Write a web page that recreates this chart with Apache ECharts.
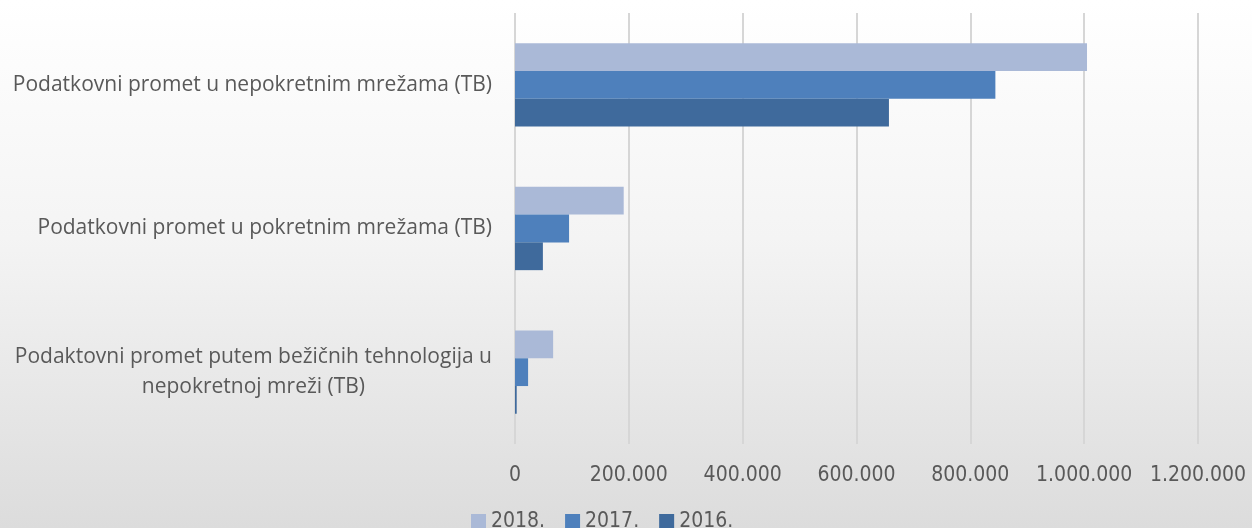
<!DOCTYPE html>
<html>
<head>
<meta charset="utf-8">
<script src="https://cdn.jsdelivr.net/npm/echarts@6/dist/echarts.min.js"></script>
<style>
  html, body { margin: 0; padding: 0; }
  #chart {
    width: 1252px;
    height: 528px;
    background: linear-gradient(to bottom, #ffffff 0%, #f4f4f4 45%, #dcdcdc 100%);
  }
</style>
</head>
<body>
<div id="chart"></div>
<script>
// categories top to bottom
const categories = [
  "Podatkovni promet u nepokretnim mrežama (TB)",
  "Podatkovni promet u pokretnim mrežama (TB)",
  "Podaktovni promet putem bežičnih tehnologija u\nnepokretnoj mreži (TB)"
];
const years = ["2018.", "2017.", "2016."];
const values2018 = [1005000, 191000, 67000];
const values2017 = [844000, 95000, 23000];
const values2016 = [657000, 49000, 3000];
const xTicks = { min: 0, max: 1200000, interval: 200000 };

const colors = ["#aab9d7", "#4e80bc", "#3f6a9c"];
const seriesData = [values2018, values2017, values2016];

function fmt(v) {
  return String(v).replace(/\B(?=(\d{3})+(?!\d))/g, ".");
}

let chart = echarts.init(document.getElementById("chart"), null, { renderer: "canvas" });
chart.setOption({
  backgroundColor: "transparent",
  animation: false,
  grid: { left: 515, right: 54, top: 13, bottom: 84, containLabel: false },
  legend: {
    top: 506,
    left: 466,
    itemWidth: 15,
    itemHeight: 15,
    itemGap: 20,
    icon: "rect",
    textStyle: {
      fontFamily: "Liberation Sans Narrow, DejaVu Sans Condensed, sans-serif",
      fontSize: 21,
      color: "#595959"
    },
    data: years
  },
  xAxis: {
    type: "value",
    min: xTicks.min,
    max: xTicks.max,
    interval: xTicks.interval,
    axisLine: { show: false },
    axisTick: { show: false },
    splitLine: { lineStyle: { color: "#d6d6d6", width: 2 } },
    axisLabel: {
      margin: 21,
      fontFamily: "Liberation Sans Narrow, DejaVu Sans Condensed, sans-serif",
      fontSize: 21,
      color: "#595959",
      formatter: fmt
    }
  },
  yAxis: {
    type: "category",
    inverse: true,
    data: categories,
    axisLine: { show: false },
    axisTick: { show: false },
    axisLabel: {
      margin: 23,
      formatter: function (v) {
        return v.split("\n").map(function (l) { return "{a|" + l + "}"; }).join("\n");
      },
      rich: {
        a: {
          align: "center",
          fontFamily: "Open Sans, Noto Sans, sans-serif",
          fontSize: 21,
          lineHeight: 30,
          color: "#595959"
        }
      }
    }
  },
  series: years.map(function (y, i) {
    return {
      name: y,
      type: "bar",
      data: seriesData[i],
      barGap: "0%",
      barCategoryGap: "42%",
      itemStyle: { color: colors[i] }
    };
  })
});
</script>
</body>
</html>
